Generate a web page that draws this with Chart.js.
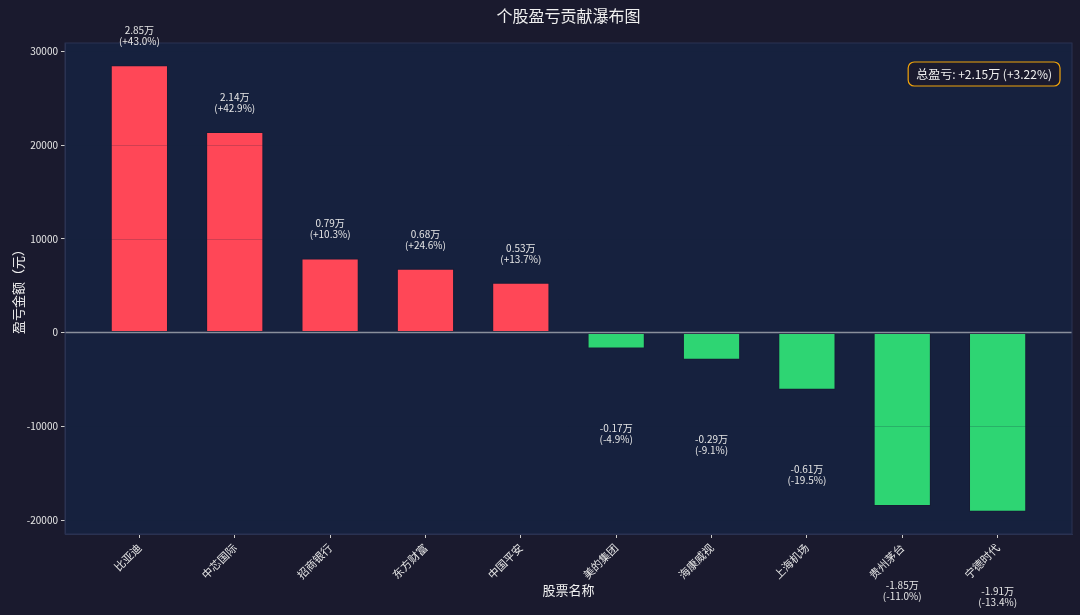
<!DOCTYPE html>
<html lang="zh">
<head>
    <meta charset="UTF-8">
    <title>个股盈亏贡献瀑布图</title>
    <script src="https://cdn.jsdelivr.net/npm/chart.js@4.4.1/dist/chart.umd.min.js"></script>
    <style>
        body {
            margin: 0;
            background-color: #1a1a2e;
        }
        #wrap {
            width: 1080px;
            height: 615px;
        }
    </style>
</head>
<body>
    <div id="wrap"><canvas id="pnlChart" width="1080" height="615"></canvas></div>

    <script>
        // Data
        const stocks = ['比亚迪', '中芯国际', '招商银行', '东方财富', '中国平安', '美的集团', '海康威视', '上海机场', '贵州茅台', '宁德时代'];
        const pnl = [28500, 21400, 7900, 6800, 5300, -1700, -2900, -6100, -18500, -19100];
        const pnlPct = [43.0, 42.9, 10.3, 24.6, 13.7, -4.9, -9.1, -19.5, -11.0, -13.4];
        const yTicks = [-20000, -10000, 0, 10000, 20000, 30000];
        const totalText = '总盈亏: +2.15万 (+3.22%)';

        const FONT = "'Noto Sans CJK SC', 'Noto Sans', sans-serif";
        const TEXT = '#e6e6e6';
        Chart.defaults.font.family = FONT;
        Chart.defaults.color = TEXT;

        // backgrounds, zero line, spines, labels, title
        const decor = {
            id: 'decor',
            beforeDraw(chart) {
                const { ctx, chartArea: a } = chart;
                ctx.save();
                ctx.fillStyle = '#1a1a2e';
                ctx.fillRect(0, 0, chart.width, chart.height);
                ctx.fillStyle = '#16213e';
                ctx.fillRect(a.left, a.top, a.right - a.left, a.bottom - a.top);
                ctx.restore();
            },
            afterDatasetsDraw(chart) {
                const { ctx, chartArea: a, scales } = chart;
                ctx.save();
                // faint grid over the bars
                ctx.strokeStyle = 'rgba(22, 33, 62, 0.2)';
                ctx.lineWidth = 1;
                yTicks.forEach(t => {
                    if (t === 0) return;
                    const y = Math.round(scales.y.getPixelForValue(t)) + 0.5;
                    ctx.beginPath();
                    ctx.moveTo(a.left, y);
                    ctx.lineTo(a.right, y);
                    ctx.stroke();
                });
                const y0 = scales.y.getPixelForValue(0);
                ctx.strokeStyle = '#8a8f9c';
                ctx.lineWidth = 1.5;
                ctx.beginPath();
                ctx.moveTo(a.left, y0);
                ctx.lineTo(a.right, y0);
                ctx.stroke();
                ctx.restore();
            },
            afterDraw(chart) {
                const { ctx, chartArea: a, scales } = chart;
                ctx.save();
                // spines
                ctx.strokeStyle = '#2a3252';
                ctx.lineWidth = 1;
                ctx.strokeRect(a.left, a.top, a.right - a.left, a.bottom - a.top);

                // value labels
                const meta = chart.getDatasetMeta(0);
                ctx.fillStyle = TEXT;
                ctx.font = '10px ' + FONT;
                ctx.textAlign = 'center';
                ctx.textBaseline = 'middle';
                pnl.forEach((v, i) => {
                    const x = meta.data[i].x;
                    const y = scales.y.getPixelForValue(v + (v >= 0 ? 3150 : -9080));
                    const wan = (v / 10000).toFixed(2) + '万';
                    const pct = '(' + (pnlPct[i] >= 0 ? '+' : '') + pnlPct[i].toFixed(1) + '%)';
                    ctx.fillText(wan, x, y - 5.5);
                    ctx.fillText(pct, x, y + 5.5);
                });

                // title
                ctx.font = '16px ' + FONT;
                ctx.fillStyle = '#f0f0f0';
                ctx.fillText('个股盈亏贡献瀑布图', (a.left + a.right) / 2, 16);

                // axis titles
                ctx.font = '13px ' + FONT;
                ctx.fillText('股票名称', (a.left + a.right) / 2, 590);
                ctx.save();
                ctx.translate(18, (a.top + a.bottom) / 2);
                ctx.rotate(-Math.PI / 2);
                ctx.fillText('盈亏金额（元）', 0, 0);
                ctx.restore();

                // total box
                ctx.font = '12px ' + FONT;
                const w = ctx.measureText(totalText).width + 16;
                const bx = a.right - 12 - w, by = a.top + 19, bh = 24;
                ctx.beginPath();
                ctx.roundRect(bx, by, w, bh, 6);
                ctx.fillStyle = '#1a1a2e';
                ctx.fill();
                ctx.strokeStyle = '#f0a30a';
                ctx.lineWidth = 1.2;
                ctx.stroke();
                ctx.fillStyle = '#f0f0f0';
                ctx.textAlign = 'left';
                ctx.fillText(totalText, bx + 8, by + bh / 2 + 0.5);
                ctx.restore();
            }
        };

        new Chart(document.getElementById('pnlChart'), {
            type: 'bar',
            data: {
                datasets: [{
                    data: pnl.map((v, i) => ({ x: i, y: v })),
                    backgroundColor: pnl.map(v => v >= 0 ? '#ff4757' : '#2ed573'),
                    borderColor: 'rgba(26, 26, 46, 0.55)',
                    borderWidth: 1,
                    borderSkipped: false,
                    barPercentage: 0.6,
                    categoryPercentage: 1
                }]
            },
            options: {
                responsive: false,
                animation: false,
                layout: { padding: { left: 10, right: 8, top: 43, bottom: 0 } },
                plugins: {
                    legend: { display: false },
                    tooltip: { enabled: false }
                },
                scales: {
                    x: {
                        type: 'linear',
                        offset: false,
                        min: -0.78,
                        max: 9.78,
                        afterBuildTicks: s => { s.ticks = stocks.map((_, i) => ({ value: i })); },
                        afterFit: s => { s.height = 81; },
                        grid: { offset: false, drawOnChartArea: false, tickLength: 4, tickColor: '#cccccc' },
                        border: { color: '#2a3252' },
                        ticks: {
                            callback: v => stocks[v],
                            minRotation: 45,
                            maxRotation: 45,
                            color: TEXT,
                            font: { size: 11 }
                        }
                    },
                    y: {
                        min: -21480,
                        max: 30880,
                        afterBuildTicks: s => { s.ticks = yTicks.map(v => ({ value: v })); },
                        afterFit: s => { s.width = 55; },
                        grid: { drawOnChartArea: false, tickLength: 4, tickColor: '#cccccc' },
                        border: { color: '#2a3252' },
                        ticks: { color: TEXT, font: { size: 10 }, callback: v => String(v) }
                    }
                }
            },
            plugins: [decor]
        });
    </script>
</body>
</html>
